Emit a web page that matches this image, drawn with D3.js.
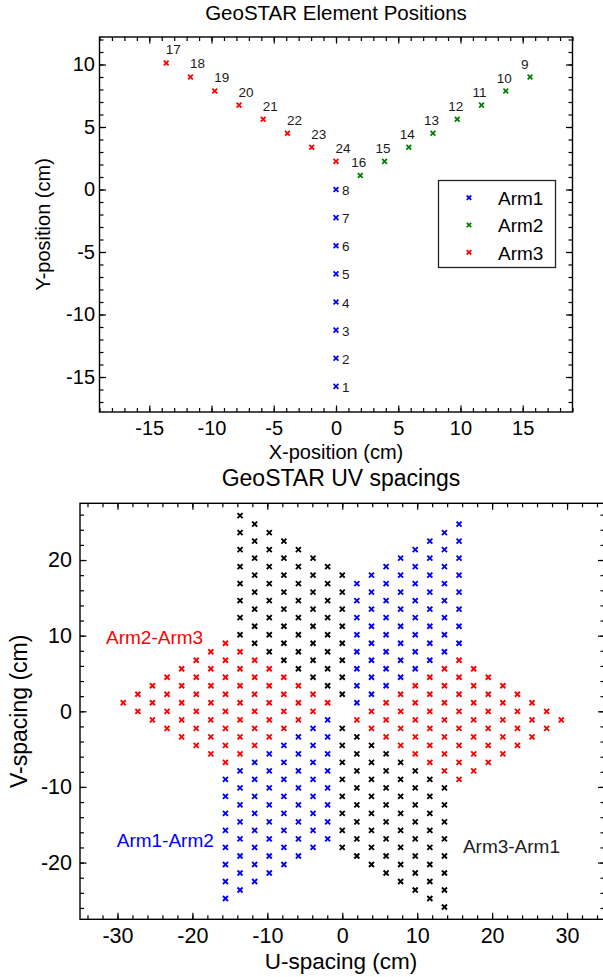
<!DOCTYPE html>
<html><head><meta charset="utf-8">
<script src="https://cdn.jsdelivr.net/npm/d3@7"></script>
<style>
body{margin:0;background:#fff;}
svg text{font-family:Arial,"Liberation Sans",Helvetica,sans-serif;}
</style></head><body>
<svg id="c" width="603" height="977"></svg>
<script>
// ---- Element positions (cm) ----
const arm1Ids = [1,2,3,4,5,6,7,8];
const arm1X   = [0,0,0,0,0,0,0,0];
const arm1Y   = [-15.75,-13.5,-11.25,-9,-6.75,-4.5,-2.25,0];
const arm2Ids = [9,10,11,12,13,14,15,16];
const arm2X   = [15.59,13.64,11.69,9.74,7.79,5.85,3.90,1.95];
const arm2Y   = [9,7.875,6.75,5.625,4.5,3.375,2.25,1.125];
const arm3Ids = [17,18,19,20,21,22,23,24];
const arm3X   = [-13.64,-11.69,-9.74,-7.79,-5.85,-3.90,-1.95,0];
const arm3Y   = [10.125,9,7.875,6.75,5.625,4.5,3.375,2.25];
const armNames  = ["Arm1","Arm2","Arm3"];
const armColors = ["#0000ff","#008000","#ff0000"];
// tick labels
const xTicks = [-15,-10,-5,0,5,10,15];
const yTicks = [-15,-10,-5,0,5,10];
const uTicks = [-30,-20,-10,0,10,20,30];
const vTicks = [-20,-10,0,10,20];
// baseline pairs (UV plot)
const pairNames  = ["Arm1-Arm2","Arm2-Arm3","Arm3-Arm1"];
const pairColors = ["#0000ff","#ff0000","#000000"];
const pairArms   = [[0,1],[1,2],[2,0]];

const arms = [
  {ids:arm1Ids, x:arm1X, y:arm1Y},
  {ids:arm2Ids, x:arm2X, y:arm2Y},
  {ids:arm3Ids, x:arm3X, y:arm3Y}
];

const svg = d3.select("#c");
const FONT = 'Arial,"Liberation Sans",Helvetica,sans-serif';
const xMark = s => `M${-s},${-s}L${s},${s}M${-s},${s}L${s},${-s}`;

function frame(g, x, y, majorX, minorX, majorY, minorY, fs, padX, padY){
  const [x0,x1] = x.range(), [y0,y1] = y.range(); // y0 bottom, y1 top
  const mk = (axis, vals, size, fmt) => axis.tickValues(vals).tickSizeInner(size).tickSizeOuter(0).tickFormat(fmt);
  const none = () => "";
  // minor ticks
  g.append("g").attr("transform",`translate(0,${y0})`).call(mk(d3.axisBottom(x),minorX,-4,none));
  g.append("g").attr("transform",`translate(0,${y1})`).call(mk(d3.axisTop(x),minorX,-4,none));
  g.append("g").attr("transform",`translate(${x0},0)`).call(mk(d3.axisLeft(y),minorY,-4,none));
  g.append("g").attr("transform",`translate(${x1},0)`).call(mk(d3.axisRight(y),minorY,-4,none));
  // major ticks
  g.append("g").attr("class","xl").attr("transform",`translate(0,${y0})`).call(mk(d3.axisBottom(x),majorX,-6.5,d3.format("d")).tickPadding(padX));
  g.append("g").attr("transform",`translate(0,${y1})`).call(mk(d3.axisTop(x),majorX,-6.5,none));
  g.append("g").attr("class","yl").attr("transform",`translate(${x0},0)`).call(mk(d3.axisLeft(y),majorY,-6.5,d3.format("d")).tickPadding(padY));
  g.append("g").attr("transform",`translate(${x1},0)`).call(mk(d3.axisRight(y),majorY,-6.5,none));
  g.selectAll(".domain").remove();
  g.selectAll(".tick line").attr("stroke","#000").attr("stroke-width",1.2);
  g.selectAll(".tick text").attr("font-size",fs).attr("font-family",FONT).attr("fill","#000");
  g.selectAll(".yl .tick text").text(d => d < 0 ? "-" + Math.abs(d) : d);
  g.selectAll(".xl .tick text").text(d => d < 0 ? "-" + Math.abs(d) : d);
  g.append("rect").attr("x",x0).attr("y",y1).attr("width",x1-x0).attr("height",y0-y1)
    .attr("fill","none").attr("stroke","#000").attr("stroke-width",1.4);
}

// ================= TOP: element positions =================
const x = d3.scaleLinear().domain([-19,19]).range([99.5,572.5]);
const y = d3.scaleLinear().domain([-17.8,12.2]).range([412,37]);
const gT = svg.append("g");
frame(gT, x, y, xTicks, d3.range(-19,20,1), yTicks, d3.range(-17,13,1), "20px", 8.8, 4.5);

gT.append("text").attr("x",336).attr("y",20).attr("text-anchor","middle")
  .attr("font-size","20.5px").text("GeoSTAR Element Positions");
gT.append("text").attr("x",336).attr("y",459).attr("text-anchor","middle")
  .attr("font-size","20px").text("X-position (cm)");
gT.append("text").attr("transform","translate(50,224.5) rotate(-90)").attr("text-anchor","middle")
  .attr("font-size","20px").text("Y-position (cm)");

const labelOff = [[6,5.5,"start"],[-9,-8.4,"start"],[-0.5,-8.6,"start"]];
arms.forEach((a,i) => {
  const pts = a.ids.map((id,k) => ({id, x:a.x[k], y:a.y[k]}));
  gT.append("g").selectAll("path").data(pts).join("path")
    .attr("d", xMark(2.4)).attr("transform", d => `translate(${x(d.x)},${y(d.y)})`)
    .attr("stroke", armColors[i]).attr("stroke-width",1.8).attr("fill","none");
  gT.append("g").selectAll("text").data(pts).join("text")
    .attr("x", d => x(d.x) + labelOff[i][0]).attr("y", d => y(d.y) + labelOff[i][1])
    .attr("font-size","13.5px").attr("fill","#1a1a1a").text(d => d.id);
});

// legend
const lg = gT.append("g");
lg.append("rect").attr("x",438.5).attr("y",180.5).attr("width",117).attr("height",87)
  .attr("fill","#fff").attr("stroke","#222").attr("stroke-width",1.3);
armNames.forEach((n,i) => {
  const yy = 197.7 + i*27.3;
  lg.append("path").attr("d",xMark(2.2)).attr("transform",`translate(469,${yy})`)
    .attr("stroke",armColors[i]).attr("stroke-width",1.8);
  lg.append("text").attr("x",498).attr("y",yy+7.3).attr("font-size","19px").text(n);
});

// ================= BOTTOM: UV spacings =================
const u = d3.scaleLinear().domain([-35,35]).range([80,604.5]);
const v = d3.scaleLinear().domain([-27.5,27.5]).range([919.3,503.3]);
const gB = svg.append("g");
frame(gB, u, v, uTicks, d3.range(-34,35,2), vTicks, d3.range(-26,27,2), "21.5px", 8.6, 8);

gB.append("text").attr("x",341).attr("y",486).attr("text-anchor","middle")
  .attr("font-size","23px").text("GeoSTAR UV spacings");
gB.append("text").attr("x",341).attr("y",968.5).attr("text-anchor","middle")
  .attr("font-size","22.5px").text("U-spacing (cm)");
gB.append("text").attr("transform","translate(27,711.3) rotate(-90)").attr("text-anchor","middle")
  .attr("font-size","23px").text("V-spacing (cm)");

// baselines: differences between element positions of two arms (both signs)
pairArms.forEach(([p,q],i) => {
  const A = arms[p], B = arms[q];
  const pts = [];
  d3.range(A.x.length).forEach(k => d3.range(B.x.length).forEach(m => {
    const du = A.x[k] - B.x[m], dv = A.y[k] - B.y[m];
    pts.push([du,dv],[-du,-dv]);
  }));
  gB.append("g").selectAll("path").data(pts).join("path")
    .attr("d", xMark(2.5)).attr("transform", d => `translate(${u(d[0])},${v(d[1])})`)
    .attr("stroke", pairColors[i]).attr("stroke-width",1.9).attr("fill","none");
});

const annPos = [[-30.1,-17.94],[-31.53,8.9],[16.1,-18.7]];
const annFill = ["#0000ff","#ff0000","#222"];
pairNames.forEach((n,i) => {
  gB.append("text").attr("x",u(annPos[i][0])).attr("y",v(annPos[i][1]))
    .attr("font-size","19px").attr("fill",annFill[i]).text(n);
});
</script></body></html>
